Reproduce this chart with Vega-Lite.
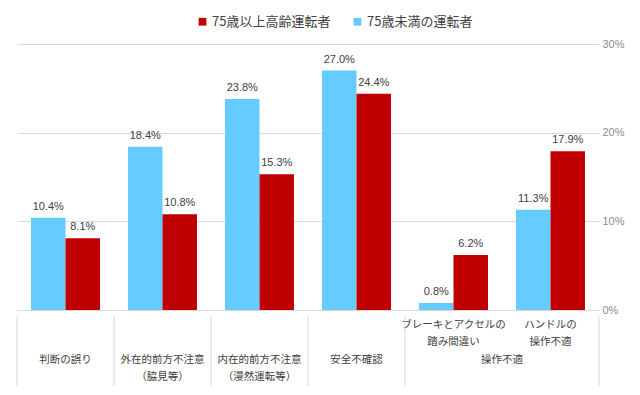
{
  "$schema": "https://vega.github.io/schema/vega-lite/v6.json",
  "padding": {"left": 16, "top": 15, "right": 5, "bottom": 5},
  "background": "white",
  "spacing": 0,
  "datasets": {
    "bars": [
      {"cat": "判断の誤り", "series": "75歳未満の運転者", "value": 0.104},
      {"cat": "判断の誤り", "series": "75歳以上高齢運転者", "value": 0.081},
      {"cat": "外在的", "series": "75歳未満の運転者", "value": 0.184},
      {"cat": "外在的", "series": "75歳以上高齢運転者", "value": 0.108},
      {"cat": "内在的", "series": "75歳未満の運転者", "value": 0.238},
      {"cat": "内在的", "series": "75歳以上高齢運転者", "value": 0.153},
      {"cat": "安全不確認", "series": "75歳未満の運転者", "value": 0.270},
      {"cat": "安全不確認", "series": "75歳以上高齢運転者", "value": 0.244},
      {"cat": "ブレーキ", "series": "75歳未満の運転者", "value": 0.008},
      {"cat": "ブレーキ", "series": "75歳以上高齢運転者", "value": 0.062},
      {"cat": "ハンドル", "series": "75歳未満の運転者", "value": 0.113},
      {"cat": "ハンドル", "series": "75歳以上高齢運転者", "value": 0.179}
    ],
    "labels": [
      {"cat": "判断の誤り", "line": 3, "text": "判断の誤り", "kind": "cat"},
      {"cat": "外在的", "line": 3, "text": "外在的前方不注意", "kind": "cat"},
      {"cat": "外在的", "line": 4, "text": "（脇見等）", "kind": "cat"},
      {"cat": "内在的", "line": 3, "text": "内在的前方不注意", "kind": "cat"},
      {"cat": "内在的", "line": 4, "text": "（漫然運転等）", "kind": "cat"},
      {"cat": "安全不確認", "line": 3, "text": "安全不確認", "kind": "cat"},
      {"cat": "ブレーキ", "line": 1, "text": "ブレーキとアクセルの", "kind": "cat"},
      {"cat": "ブレーキ", "line": 2, "text": "踏み間違い", "kind": "cat"},
      {"cat": "ハンドル", "line": 1, "text": "ハンドルの", "kind": "cat"},
      {"cat": "ハンドル", "line": 2, "text": "操作不適", "kind": "cat"},
      {"cat": "ハンドル", "line": 3, "text": "操作不適", "kind": "group"}
    ]
  },
  "vconcat": [
    {
      "width": 582,
      "height": 266,
      "data": {"name": "bars"},
      "encoding": {
        "x": {"field": "cat", "type": "nominal", "scale": {"domain": ["判断の誤り", "外在的", "内在的", "安全不確認", "ブレーキ", "ハンドル"], "paddingInner": 0, "paddingOuter": 0}, "axis": null},
        "xOffset": {"field": "series", "type": "nominal", "sort": ["75歳未満の運転者", "75歳以上高齢運転者"], "scale": {"paddingOuter": 0.406, "paddingInner": 0}},
        "y": {"field": "value", "type": "quantitative", "scale": {"domain": [0, 0.3]},
          "axis": {"orient": "right", "values": [0, 0.1, 0.2, 0.3], "format": ".0%", "domain": false, "ticks": false, "grid": true, "gridColor": "#d9d9d9", "gridWidth": 1, "labelColor": "#8c8c8c", "labelFontSize": 11, "labelFont": "Liberation Sans", "labelPadding": 3, "title": null}}
      },
      "layer": [
        {
          "mark": {"type": "bar"},
          "encoding": {
            "color": {"field": "series", "type": "nominal",
              "scale": {"domain": ["75歳以上高齢運転者", "75歳未満の運転者"], "range": ["#C00000", "#66CCFF"]},
              "legend": {"orient": "none", "legendX": 179, "legendY": -29, "direction": "horizontal", "title": null, "symbolType": "square", "symbolSize": 60, "symbolStrokeWidth": 0, "labelFontSize": 13, "labelColor": "#404040", "labelFont": "Noto Sans CJK JP", "columnPadding": 20, "labelOffset": 3}}
          }
        },
        {
          "mark": {"type": "text", "baseline": "bottom", "dy": -6, "fontSize": 11, "font": "Liberation Sans", "color": "#404040"},
          "encoding": {"text": {"field": "value", "type": "quantitative", "format": ".1%"}}
        }
      ]
    },
    {
      "width": 582,
      "height": 70,
      "layer": [
        {
          "data": {"name": "labels"},
          "transform": [{"filter": "datum.kind == 'cat'"}],
          "mark": {"type": "text", "fontSize": 10.5, "font": "Noto Sans CJK JP", "color": "#404040"},
          "encoding": {
            "x": {"field": "cat", "type": "nominal", "scale": {"domain": ["判断の誤り", "外在的", "内在的", "安全不確認", "ブレーキ", "ハンドル"], "paddingInner": 0, "paddingOuter": 0}, "axis": null},
            "y": {"field": "line", "type": "ordinal", "scale": {"domain": [1, 2, 3, 4]}, "axis": null},
            "text": {"field": "text"}
          }
        },
        {
          "data": {"name": "labels"},
          "transform": [{"filter": "datum.kind == 'group'"}],
          "mark": {"type": "text", "fontSize": 10.5, "font": "Noto Sans CJK JP", "color": "#404040"},
          "encoding": {
            "x": {"field": "cat", "type": "nominal", "bandPosition": 0, "axis": null},
            "y": {"field": "line", "type": "ordinal", "axis": null},
            "text": {"field": "text"}
          }
        },
        {
          "data": {"name": "bars"},
          "transform": [{"filter": "datum.series == '75歳未満の運転者' && datum.cat != 'ハンドル'"}],
          "mark": {"type": "rule", "color": "#d9d9d9", "strokeWidth": 1},
          "encoding": {"x": {"field": "cat", "type": "nominal", "bandPosition": 0, "axis": null}}
        },
        {
          "data": {"name": "bars"},
          "transform": [{"filter": "datum.series == '75歳未満の運転者' && datum.cat == 'ハンドル'"}],
          "mark": {"type": "rule", "color": "#d9d9d9", "strokeWidth": 1},
          "encoding": {"x": {"field": "cat", "type": "nominal", "bandPosition": 1, "axis": null}}
        }
      ]
    }
  ],
  "config": {"view": {"stroke": null}, "font": "Noto Sans CJK JP"}
}
